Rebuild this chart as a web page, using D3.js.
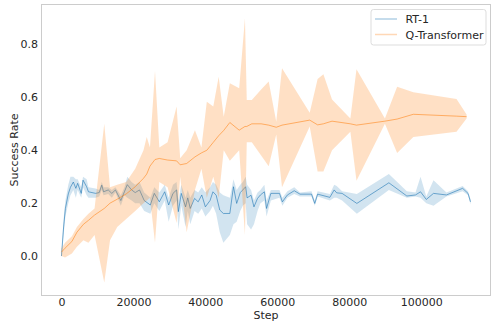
<!DOCTYPE html>
<html><head><meta charset="utf-8">
<script src="https://cdn.jsdelivr.net/npm/d3@7"></script>
<style>body{margin:0;background:#fff}svg{display:block}text{font-family:"DejaVu Sans",sans-serif}</style>
</head><body><svg id="c" width="498" height="324"></svg>
<script>
// RT-1 series
const rt1Steps = [0,600,1100,1900,2500,3300,4000,4500,5500,6000,7000,7500,9500,10500,11200,11700,13000,14000,15000,16500,17500,18300,19500,20500,21700,23000,24700,25800,27200,28700,29800,31000,32000,32500,33300,34500,35100,35800,37000,38000,39000,40000,41300,42100,43000,44000,45000,46800,47800,48700,49700,50400,51200,51600,52700,53500,54500,55300,56400,57000,58200,60600,61400,62800,64700,66300,69500,70400,71200,74600,75800,76500,78000,82100,91000,96000,98400,99800,101400,103400,107000,111500,113000,113700];
const rt1Mean = [0.00,0.11,0.18,0.235,0.26,0.28,0.256,0.275,0.237,0.287,0.262,0.243,0.237,0.24,0.268,0.243,0.25,0.237,0.25,0.21,0.243,0.27,0.25,0.24,0.25,0.21,0.193,0.237,0.205,0.243,0.193,0.237,0.25,0.168,0.237,0.186,0.22,0.18,0.218,0.205,0.231,0.186,0.21,0.243,0.23,0.174,0.161,0.161,0.262,0.199,0.24,0.25,0.262,0.22,0.23,0.186,0.218,0.231,0.243,0.18,0.237,0.237,0.205,0.231,0.247,0.234,0.234,0.199,0.234,0.222,0.25,0.239,0.237,0.199,0.277,0.227,0.231,0.243,0.214,0.237,0.231,0.256,0.237,0.205];
const rt1Low = [0.00,0.08,0.15,0.20,0.23,0.25,0.22,0.25,0.22,0.26,0.23,0.22,0.22,0.225,0.25,0.23,0.235,0.22,0.24,0.19,0.23,0.22,0.21,0.20,0.20,0.17,0.16,0.20,0.17,0.21,0.13,0.19,0.21,0.10,0.19,0.11,0.17,0.12,0.17,0.16,0.18,0.15,0.17,0.19,0.16,0.09,0.05,0.08,0.12,0.13,0.17,0.19,0.20,0.12,0.10,0.12,0.17,0.20,0.21,0.15,0.21,0.22,0.19,0.22,0.235,0.225,0.225,0.19,0.225,0.21,0.22,0.22,0.21,0.16,0.25,0.22,0.225,0.22,0.20,0.19,0.225,0.245,0.23,0.195];
const rt1High = [0.01,0.14,0.21,0.27,0.30,0.30,0.29,0.29,0.26,0.30,0.29,0.26,0.255,0.25,0.28,0.26,0.26,0.25,0.26,0.23,0.26,0.30,0.28,0.27,0.28,0.24,0.22,0.26,0.24,0.27,0.22,0.27,0.28,0.21,0.27,0.22,0.25,0.22,0.25,0.24,0.26,0.24,0.26,0.28,0.27,0.24,0.23,0.22,0.29,0.25,0.27,0.28,0.30,0.27,0.25,0.21,0.24,0.25,0.27,0.21,0.25,0.25,0.22,0.245,0.26,0.24,0.245,0.21,0.245,0.235,0.27,0.265,0.245,0.235,0.31,0.245,0.24,0.30,0.225,0.287,0.24,0.265,0.245,0.215];

// Q-Transformer series
const qtSteps = [0,1000,2900,4300,6100,7500,9200,11900,13500,15500,18000,20500,22800,23700,24600,26000,27200,29500,32000,33000,34800,37100,38900,40400,42200,43700,45100,46800,49400,51000,51500,52900,55500,57600,59700,61300,69000,71200,72800,75200,80300,82000,89900,93300,97800,109800,112600];
const qtMean = [0.015,0.03,0.055,0.09,0.12,0.135,0.155,0.18,0.20,0.215,0.235,0.262,0.294,0.31,0.34,0.365,0.369,0.363,0.36,0.345,0.35,0.375,0.39,0.40,0.43,0.455,0.475,0.505,0.476,0.49,0.49,0.50,0.50,0.495,0.487,0.495,0.514,0.496,0.50,0.51,0.50,0.495,0.51,0.518,0.536,0.529,0.527];
const qtLow = [0.00,-0.005,0.01,0.035,0.06,0.05,0.08,-0.10,0.06,0.11,0.14,0.17,0.20,0.21,0.22,0.05,0.28,0.26,0.125,0.30,0.09,0.25,0.33,0.22,0.30,0.22,0.40,0.36,0.40,0.08,0.43,0.43,0.38,0.34,0.46,0.26,0.49,0.32,0.32,0.40,0.47,0.285,0.50,0.39,0.45,0.47,0.52];
const qtHigh = [0.03,0.05,0.075,0.11,0.14,0.16,0.18,0.50,0.26,0.27,0.28,0.33,0.40,0.45,0.41,0.70,0.41,0.43,0.565,0.37,0.40,0.476,0.41,0.583,0.565,0.678,0.527,0.653,0.634,0.899,0.59,0.59,0.63,0.66,0.508,0.71,0.542,0.669,0.687,0.592,0.52,0.706,0.52,0.64,0.619,0.594,0.535];

const yTicks = [0.0,0.2,0.4,0.6,0.8];
const xTicks = [0,20000,40000,60000,80000,100000];
const seriesNames = ["RT-1","Q-Transformer"];

const W=498,H=324, L=41, R=491, T=4, B=296;
const svg=d3.select("#c");
const x=d3.scaleLinear().domain([-5685,119385]).range([L,R]);
const y=d3.scaleLinear().domain([-0.151,0.953]).range([B,T]);

const zip=(s,m,lo,hi)=>s.map((v,i)=>({s:v,m:m[i],lo:lo[i],hi:hi[i]}));
const rt1=zip(rt1Steps,rt1Mean,rt1Low,rt1High);
const qt=zip(qtSteps,qtMean,qtLow,qtHigh);

const area=d3.area().x(d=>x(d.s)).y0(d=>y(d.lo)).y1(d=>y(d.hi));
const line=d3.line().x(d=>x(d.s)).y(d=>y(d.m));

const g=svg.append("g");
g.append("path").datum(rt1).attr("d",area).attr("fill","rgba(31,119,180,0.2)");
g.append("path").datum(rt1).attr("d",line).attr("fill","none").attr("stroke","rgba(31,119,180,0.6)").attr("stroke-width",1);
g.append("path").datum(qt).attr("d",area).attr("fill","rgba(255,127,14,0.24)");
g.append("path").datum(qt).attr("d",line).attr("fill","none").attr("stroke","rgba(255,127,14,0.55)").attr("stroke-width",1);

// frame
svg.append("rect").attr("x",L+0.5).attr("y",T+0.5).attr("width",R-L-1).attr("height",B-T-1)
  .attr("fill","none").attr("stroke","#cccccc").attr("stroke-width",1);

// axes (no tick marks)
const xa=svg.append("g").attr("transform",`translate(0,${B})`)
  .call(d3.axisBottom(x).tickValues(xTicks).tickFormat(d3.format("d")).tickSize(0).tickPadding(2));
const ya=svg.append("g").attr("transform",`translate(${L},0)`)
  .call(d3.axisLeft(y).tickValues(yTicks).tickFormat(d3.format(".1f")).tickSize(0).tickPadding(3));
[xa,ya].forEach(a=>{a.select(".domain").remove();a.selectAll("text").attr("font-size",11).attr("fill","#262626").attr("font-family","DejaVu Sans");});

svg.append("text").attr("x",(L+R)/2).attr("y",319).attr("text-anchor","middle")
  .attr("font-size",11).attr("fill","#262626").text("Step");
svg.append("text").attr("transform",`translate(18,${(T+B)/2}) rotate(-90)`).attr("text-anchor","middle")
  .attr("font-size",11).attr("fill","#262626").text("Success Rate");

// legend
const lg=svg.append("g");
lg.append("rect").attr("x",371).attr("y",9.5).attr("width",115).attr("height",35.5).attr("rx",2.5)
  .attr("fill","rgba(255,255,255,0.8)").attr("stroke","#dddddd");
const lcol=["rgba(31,119,180,0.35)","rgba(255,127,14,0.3)"];
seriesNames.forEach((n,i)=>{
  const yy=19+i*15.5;
  lg.append("line").attr("x1",375).attr("x2",397).attr("y1",yy).attr("y2",yy).attr("stroke",lcol[i]).attr("stroke-width",1.5);
  lg.append("text").attr("x",405.5).attr("y",yy+4).attr("font-size",11).attr("fill","#262626").text(n);
});
</script></body></html>
